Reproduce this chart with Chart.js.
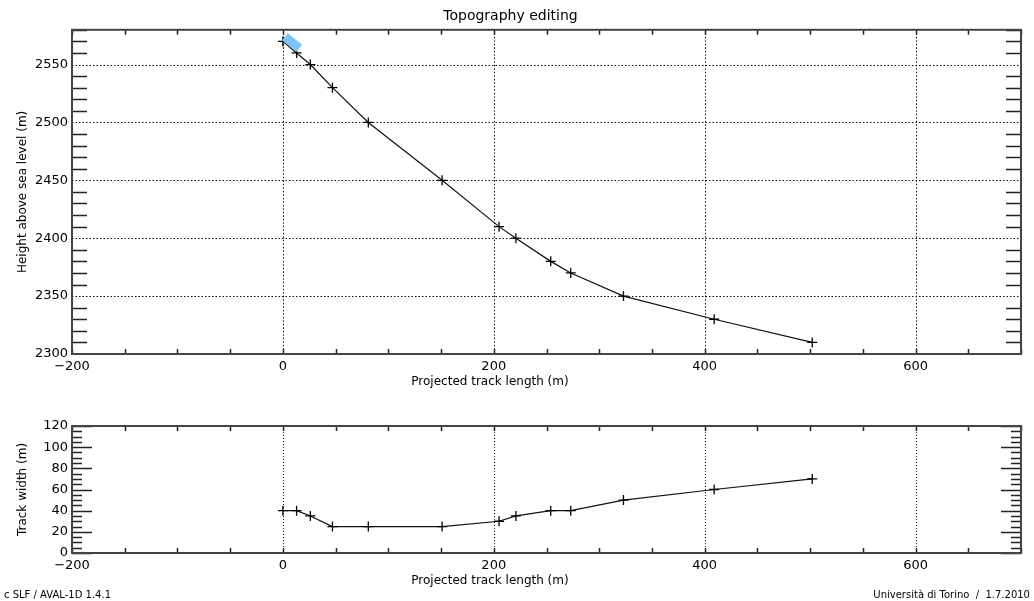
<!DOCTYPE html>
<html>
<head>
<meta charset="utf-8">
<script src="https://cdn.jsdelivr.net/npm/chart.js@4/dist/chart.umd.min.js"></script>
<style>
  body { margin: 0; background: #fff; width: 1034px; height: 601px; position: relative; overflow: hidden; font-family: 'DejaVu Sans', sans-serif; }
  canvas { position: absolute; left: 0; }
  #top-chart { top: 0; }
  #bottom-chart { top: 400px; }
  .foot { position: absolute; top: 589px; font-size: 10px; color: #000; white-space: pre; }
</style>
</head>
<body>
<canvas id="top-chart" width="1034" height="400"></canvas>
<canvas id="bottom-chart" width="1034" height="201"></canvas>
<div class="foot" style="left:4px">c SLF / AVAL-1D 1.4.1</div>
<div class="foot" style="right:4px">Università di Torino  /  1.7.2010</div>
<script>
// profile points
const trackLength = [0, 13, 26, 47, 81, 151, 205, 221, 254, 273, 323, 409, 502];
const heights = [2570, 2560, 2550, 2530, 2500, 2450, 2410, 2400, 2380, 2370, 2350, 2330, 2310];
const widths = [40, 40, 35, 25, 25, 25, 30, 35, 40, 40, 50, 60, 70];

// selected segment (blue marker)
const selX = [2, 15.5];
const selY = [2574, 2564];

const chartTitle = 'Topography editing';
const xTitle = 'Projected track length (m)';
const heightTitle = 'Height above sea level (m)';
const widthTitle = 'Track width (m)';

const FONT = "'DejaVu Sans', sans-serif";

function pts(xs, ys) {
    return xs.map((v, i) => ({ x: v, y: ys[i] }));
}

function fmt(v) {
    return v < 0 ? '\u2212' + Math.abs(v) : String(v);
}

// IDL style: inward ticks, dotted grid, frame
const idlAxes = {
    id: 'idlAxes',
    beforeDatasetsDraw(chart, args, opts) {
        const { ctx, chartArea: a, scales: { x, y } } = chart;
        ctx.save();
        ctx.strokeStyle = '#111';
        ctx.lineWidth = 1;
        ctx.setLineDash(opts.dash);
        for (let v = Math.ceil(x.min / opts.xMajor) * opts.xMajor; v <= x.max; v += opts.xMajor) {
            const px = Math.round(x.getPixelForValue(v)) + 0.5;
            ctx.beginPath(); ctx.moveTo(px, a.top); ctx.lineTo(px, a.bottom); ctx.stroke();
        }
        if (opts.yGrid) {
            for (let v = y.min; v <= y.max; v += opts.yMajor) {
                const py = Math.round(y.getPixelForValue(v)) + 0.5;
                ctx.beginPath(); ctx.moveTo(a.left, py); ctx.lineTo(a.right, py); ctx.stroke();
            }
        }
        ctx.restore();
    },
    afterDatasetsDraw(chart, args, opts) {
        const { ctx, chartArea: a, scales: { x, y } } = chart;
        ctx.save();
        ctx.strokeStyle = '#222';
        ctx.lineWidth = 1.5;
        for (let v = x.min; v <= x.max; v += opts.xMinor) {
            const px = Math.round(x.getPixelForValue(v)) + 0.5;
            ctx.beginPath();
            ctx.moveTo(px, a.bottom); ctx.lineTo(px, a.bottom - 5);
            ctx.moveTo(px, a.top); ctx.lineTo(px, a.top + 5);
            ctx.stroke();
        }
        for (let v = y.min; v <= y.max; v += opts.yMinor) {
            const len = v % opts.yMajor === 0 ? opts.yMajorLen : opts.yMinorLen;
            if (!len) continue;
            const py = Math.round(y.getPixelForValue(v)) + 0.5;
            ctx.beginPath();
            ctx.moveTo(a.left, py); ctx.lineTo(a.left + len, py);
            ctx.moveTo(a.right, py); ctx.lineTo(a.right - len, py);
            ctx.stroke();
        }
        // frame
        ctx.strokeStyle = '#444';
        ctx.lineWidth = 2;
        ctx.strokeRect(a.left, a.top, a.right - a.left, a.bottom - a.top);
        // x axis title (sits left of plot centre in the original)
        ctx.fillStyle = '#000';
        ctx.font = '12px ' + FONT;
        ctx.textAlign = 'center';
        ctx.textBaseline = 'middle';
        ctx.fillText(xTitle, 490, a.bottom + 28);
        ctx.restore();
    }
};

function axisX(height) {
    return {
        type: 'linear',
        min: -200,
        max: 700,
        grid: { display: false, drawTicks: false },
        border: { display: false },
        ticks: {
            stepSize: 200,
            padding: 5,
            maxRotation: 0,
            color: '#000',
            font: { family: FONT, size: 13 },
            callback: v => (v % 200 === 0 ? fmt(v) : '')
        },
        afterFit: s => { s.height = height; }
    };
}

function axisY(min, max, step, title, titlePad) {
    return {
        type: 'linear',
        min: min,
        max: max,
        grid: { display: false, drawTicks: false },
        border: { display: false },
        title: {
            display: true,
            text: title,
            color: '#000',
            font: { family: FONT, size: 12 },
            padding: { top: titlePad, bottom: 0 }
        },
        ticks: {
            stepSize: step,
            padding: 4,
            color: '#000',
            font: { family: FONT, size: 13 },
            callback: v => (v % step === 0 ? fmt(v) : '')
        },
        afterFit: s => { s.width = 72; }
    };
}

const lineStyle = {
    showLine: true,
    borderColor: '#111',
    borderWidth: 1.2,
    pointStyle: 'cross',
    pointRadius: 5,
    pointBorderColor: '#000',
    pointBorderWidth: 1.3,
    pointHoverRadius: 5,
    tension: 0
};

new Chart(document.getElementById('top-chart'), {
    type: 'scatter',
    data: {
        datasets: [
            {
                data: pts(selX, selY),
                showLine: true,
                borderColor: '#7cc4f6',
                borderWidth: 9,
                borderCapStyle: 'butt',
                pointRadius: 0,
                order: 0
            },
            Object.assign({ data: pts(trackLength, heights), order: 1 }, lineStyle)
        ]
    },
    options: {
        responsive: false,
        animation: false,
        devicePixelRatio: 1,
        layout: { padding: { top: 0, right: 13, left: 0, bottom: 0 } },
        plugins: {
            legend: { display: false },
            tooltip: { enabled: false },
            title: {
                display: true,
                text: chartTitle,
                color: '#000',
                font: { family: FONT, size: 14, weight: 'normal' },
                padding: { top: 8, bottom: 5 }
            },
            idlAxes: { xMajor: 200, xMinor: 50, yMajor: 50, yMinor: 10, yMajorLen: 0, yMinorLen: 15, yGrid: true, dash: [1.5, 2] }
        },
        scales: {
            x: axisX(46),
            y: axisY(2300, 2580, 50, heightTitle, 16)
        }
    },
    plugins: [idlAxes]
});

new Chart(document.getElementById('bottom-chart'), {
    type: 'scatter',
    data: {
        datasets: [
            Object.assign({ data: pts(trackLength, widths) }, lineStyle)
        ]
    },
    options: {
        responsive: false,
        animation: false,
        devicePixelRatio: 1,
        layout: { padding: { top: 26, right: 13, left: 0, bottom: 0 } },
        plugins: {
            legend: { display: false },
            tooltip: { enabled: false },
            idlAxes: { xMajor: 200, xMinor: 50, yMajor: 20, yMinor: 5, yMajorLen: 20, yMinorLen: 10, yGrid: false, dash: [1, 2] }
        },
        scales: {
            x: axisX(48),
            y: axisY(0, 120, 20, widthTitle, 16)
        }
    },
    plugins: [idlAxes]
});
</script>
</body>
</html>
